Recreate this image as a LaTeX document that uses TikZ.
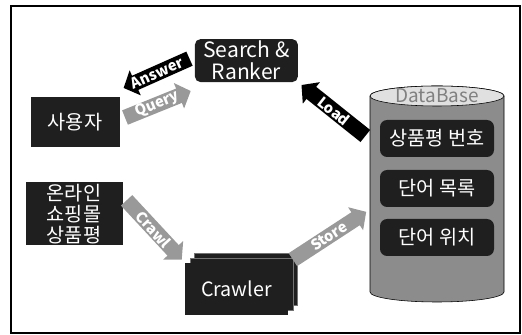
\documentclass[tikz,border=0pt]{standalone}
\usepackage{fontspec}
\setmainfont{Noto Sans CJK KR}
\usetikzlibrary{arrows.meta,shadows}

\begin{document}
\begin{tikzpicture}[
    darkbox/.style={fill=black!88, text=white, inner sep=0pt, align=center, font=\fontsize{14}{15}\selectfont},
    bigarrow/.style={line width=11pt, -{Triangle[length=9pt, width=19pt]}, shorten <=4pt, shorten >=3pt},
    arrowtext/.style={midway, sloped, text=white, inner sep=0pt, font=\bfseries\fontsize{10.5}{10.5}\selectfont}
  ]
    \useasboundingbox (0,0) rectangle (13.05,8.375);
    \draw[line width=1pt] (0.275,0.05) rectangle (13.0,8.225);

    \node[darkbox, rounded corners=4pt, minimum width=2.575cm, minimum height=1.075cm, font=\fontsize{15}{15.5}\selectfont] (search) at (6.16,6.86) {Search \&\\Ranker};
    \node[darkbox, minimum width=2.225cm, minimum height=1.25cm] (user) at (1.875,5.325) {사용자};
    \node[darkbox, minimum width=2.425cm, minimum height=1.575cm] (shop) at (1.85,3.025) {온라인\\쇼핑몰\\상품평};
    \node[darkbox, minimum width=2.575cm, minimum height=1.3cm,
          double copy shadow={shadow xshift=3.5pt, shadow yshift=3.5pt, fill=black!88, draw=black!55}] (crawler) at (5.91,1.15) {Crawler};

    \fill[black!45, draw=black] (9.25,5.975) -- (9.25,1.075) arc[start angle=180, end angle=360, x radius=1.675, y radius=0.25]
        -- (12.6,5.975) arc[start angle=0, end angle=180, x radius=1.675, y radius=0.25] -- cycle;
    \draw[fill=black!12] (10.925,5.975) ellipse[x radius=1.675, y radius=0.25];
    \node[text=black!50, font=\fontsize{13.5}{13.5}\selectfont] (dbtitle) at (10.925,5.975) {DataBase};
    \node[minimum width=3.35cm, minimum height=5.4cm] (db) at (10.925,3.525) {};
    \node[darkbox, rounded corners=5pt, minimum width=2.85cm, minimum height=0.925cm] (num) at (10.925,4.9125) {상품평 번호};
    \node[darkbox, rounded corners=5pt, minimum width=2.85cm, minimum height=0.925cm] (words) at (10.925,3.6625) {단어 목록};
    \node[darkbox, rounded corners=5pt, minimum width=2.85cm, minimum height=0.925cm] (pos) at (10.925,2.4375) {단어 위치};

    \draw[bigarrow, black] ([yshift=3pt]search.west) -- ([yshift=5pt]user.north east) node[arrowtext] {Answer};
    \draw[bigarrow, black!40] (user.3) -- ([yshift=-5pt]search.south west) node[arrowtext] {Query};
    \draw[bigarrow, black] (db.141) -- (search.south east) node[arrowtext] {Load};
    \draw[bigarrow, black!40] (shop.20) -- (crawler.north west) node[arrowtext] {Crawl};
    \draw[bigarrow, black!40] (crawler.north east) -- (db.193) node[arrowtext] {Store};
\end{tikzpicture}
\end{document}
